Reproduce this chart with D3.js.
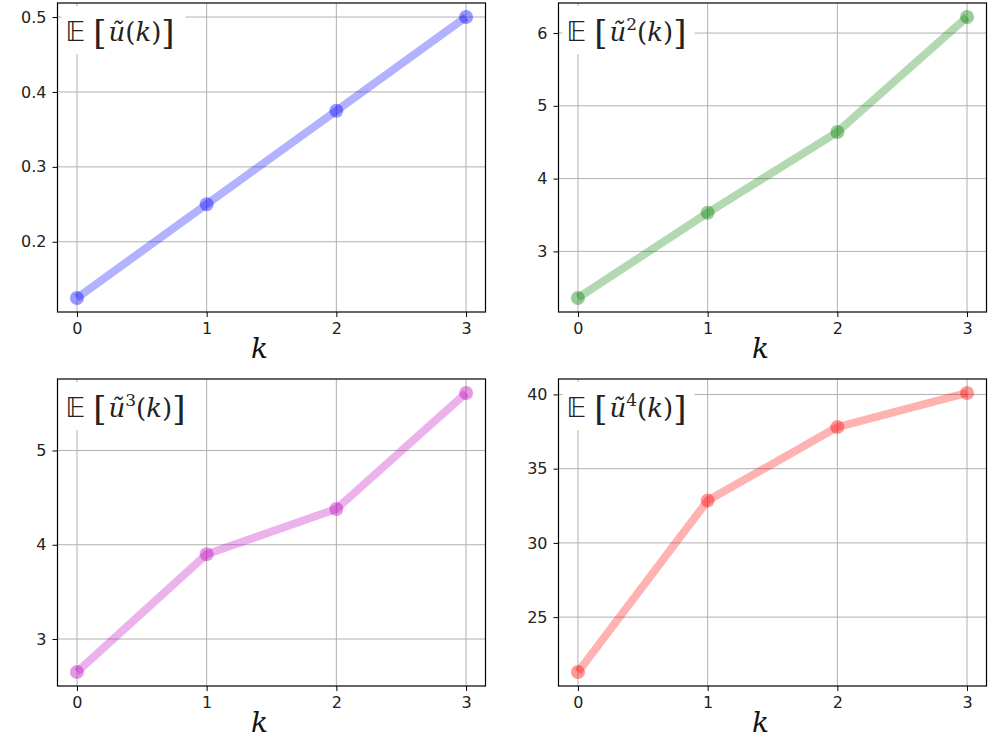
<!DOCTYPE html>
<html>
<head>
<meta charset="utf-8">
<script src="https://cdn.jsdelivr.net/npm/d3@7"></script>
<style>
  body { margin: 0; background: #fff; }
  .tick text { font-family: "DejaVu Sans", sans-serif; font-size: 16px; fill: #222; }
</style>
</head>
<body>
<div id="chart"></div>
<script>
var w = 996;
var h = 741;

var kValues = [0, 1, 2, 3];
var moment1 = [0.125, 0.25, 0.375, 0.5];
var moment2 = [2.36, 3.53, 4.64, 6.22];
var moment3 = [2.65, 3.90, 4.38, 5.61];
var moment4 = [21.3, 32.85, 37.8, 40.1];
var yTicks1 = [0.2, 0.3, 0.4, 0.5];
var yTicks2 = [3, 4, 5, 6];
var yTicks3 = [3, 4, 5];
var yTicks4 = [25, 30, 35, 40];
var powers = ["", "2", "3", "4"];
var colors = ["#0000ff", "#008000", "#bf00bf", "#ff0000"];

var panels = [
  {vals: moment1, ticks: yTicks1, fmt: d3.format(".1f"), left: 57.5, top: 3, right: 485.5, bottom: 312},
  {vals: moment2, ticks: yTicks2, fmt: d3.format("d"), left: 558.5, top: 3, right: 986.5, bottom: 312},
  {vals: moment3, ticks: yTicks3, fmt: d3.format("d"), left: 57.5, top: 379, right: 485.5, bottom: 686},
  {vals: moment4, ticks: yTicks4, fmt: d3.format("d"), left: 558.5, top: 379, right: 986.5, bottom: 686}
];

var svg = d3.select("#chart")
            .append("svg")
            .attr("width", w)
            .attr("height", h);

panels.forEach(function(p, i) {
  var yMin = d3.min(p.vals), yMax = d3.max(p.vals);
  var pad = (yMax - yMin) * 0.05;

  var xScale = d3.scaleLinear()
                 .domain([-0.15, 3.15])
                 .range([p.left, p.right]);
  var yScale = d3.scaleLinear()
                 .domain([yMin - pad, yMax + pad])
                 .range([p.bottom, p.top]);

  var g = svg.append("g");

  // grid
  g.append("g").selectAll("line")
   .data(kValues).enter().append("line")
   .attr("x1", function(d) { return xScale(d); })
   .attr("x2", function(d) { return xScale(d); })
   .attr("y1", p.top).attr("y2", p.bottom)
   .attr("stroke", "#b0b0b0").attr("stroke-width", 1);
  g.append("g").selectAll("line")
   .data(p.ticks).enter().append("line")
   .attr("y1", function(d) { return yScale(d); })
   .attr("y2", function(d) { return yScale(d); })
   .attr("x1", p.left).attr("x2", p.right)
   .attr("stroke", "#b0b0b0").attr("stroke-width", 1);

  var line = d3.line()
               .x(function(d, j) { return xScale(kValues[j]); })
               .y(function(d) { return yScale(d); });

  g.append("path")
   .datum(p.vals)
   .attr("d", line)
   .attr("fill", "none")
   .attr("stroke", colors[i])
   .attr("stroke-opacity", 0.3)
   .attr("stroke-width", 8)
   .attr("stroke-linejoin", "round")
   .attr("stroke-linecap", "butt");

  g.append("g").selectAll("circle")
   .data(p.vals).enter().append("circle")
   .attr("cx", function(d, j) { return xScale(kValues[j]); })
   .attr("cy", function(d) { return yScale(d); })
   .attr("r", 7)
   .attr("fill", colors[i])
   .attr("fill-opacity", 0.4);

  // title box inside axes
  var tb = g.append("g");
  var bw = powers[i] ? 132 : 124;
  tb.append("rect")
    .attr("x", p.left + 4).attr("y", p.top + 3)
    .attr("width", bw).attr("height", 48)
    .attr("fill", "#fff");
  var t = tb.append("text")
    .attr("x", p.left + 8).attr("y", p.top + 38)
    .attr("font-family", "'DejaVu Serif', serif")
    .attr("font-size", 26)
    .attr("fill", "#222");
  t.append("tspan").attr("font-family", "'DejaVu Sans', sans-serif").attr("font-size", 27).text("\uD835\uDD3C");
  t.append("tspan").attr("dx", 8).attr("font-size", 34).attr("dy", 3).attr("font-weight", 200).text("[");
  t.append("tspan").attr("dy", -3).attr("dx", 2).attr("font-style", "italic").text("u\u0303");
  if (powers[i]) {
    t.append("tspan").attr("font-size", 17).attr("dy", -11).text(powers[i]);
    t.append("tspan").attr("dy", 11).text("(");
  } else {
    t.append("tspan").text("(");
  }
  t.append("tspan").attr("font-style", "italic").text("k");
  t.append("tspan").text(")");
  t.append("tspan").attr("font-size", 34).attr("dy", 3).attr("font-weight", 200).text("]");

  // frame
  g.append("rect")
   .attr("x", p.left).attr("y", p.top)
   .attr("width", p.right - p.left).attr("height", p.bottom - p.top)
   .attr("fill", "none").attr("stroke", "#000").attr("stroke-width", 1.2);

  var xAxis = d3.axisBottom(xScale).tickValues(kValues).tickSize(5).tickPadding(6).tickFormat(d3.format("d"));
  var yAxis = d3.axisLeft(yScale).tickValues(p.ticks).tickSize(5).tickPadding(6).tickFormat(p.fmt);

  var gx = g.append("g")
    .attr("transform", "translate(0," + p.bottom + ")")
    .call(xAxis);
  gx.select(".domain").remove();
  var gy = g.append("g")
    .attr("transform", "translate(" + p.left + ",0)")
    .call(yAxis);
  gy.select(".domain").remove();

  g.append("text")
   .attr("x", (p.left + p.right) / 2 - 12)
   .attr("y", p.bottom + 46)
   .attr("text-anchor", "middle")
   .attr("font-family", "'DejaVu Serif', serif")
   .attr("font-style", "italic")
   .attr("font-size", 28)
   .attr("fill", "#111")
   .text("k");
});
</script>
</body>
</html>
